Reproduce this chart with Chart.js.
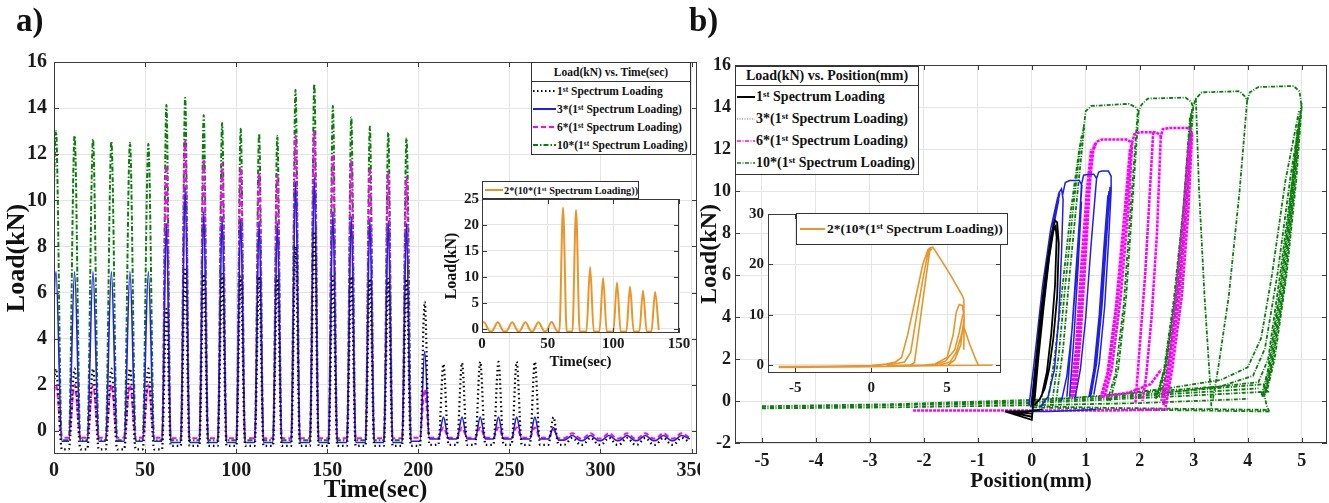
<!DOCTYPE html>
<html>
<head>
<meta charset="utf-8">
<script src="https://cdn.jsdelivr.net/npm/chart.js@4.4.0/dist/chart.umd.min.js"></script>
<style>
  body { margin: 0; background: #fff; }
  #fig { position: relative; width: 1329px; height: 503px; overflow: hidden;
         font-family: "Liberation Serif", "Times New Roman", serif; font-weight: bold; color: #111; }
  canvas { position: absolute; }
  .lbl { position: absolute; font-size: 33px; line-height: 1; }
  .leg { position: absolute; background: #fff; border: 1px solid #333; box-sizing: border-box; overflow: hidden; }
  .leg .ttl { text-align: center; border-bottom: 1px solid #333; white-space: nowrap; }
  .leg .row { display: flex; align-items: center; white-space: nowrap; }
  .leg svg { flex: none; }
  sup { font-size: 0.65em; line-height: 0; vertical-align: 0.45em; }
</style>
</head>
<body>
<div id="fig">
  <canvas id="mainA" width="700" height="503" style="left:0;top:0"></canvas>
  <canvas id="insetA" width="262" height="197" style="left:430px;top:175px"></canvas>
  <canvas id="mainB" width="632" height="503" style="left:697px;top:0"></canvas>
  <canvas id="insetB" width="280" height="195" style="left:735px;top:205px"></canvas>

  <div class="lbl" style="left:16px;top:4px">a)</div>
  <div class="lbl" style="left:689px;top:4px">b)</div>

  <div class="leg" style="left:531px;top:62px;width:160px;height:93px;font-size:11.5px">
    <div class="ttl" style="height:18px;line-height:18px">Load(kN) vs. Time(sec)</div>
    <div class="row" style="height:18px"><svg width="25" height="8"><line x1="1" y1="4" x2="24" y2="4" stroke="#000" stroke-width="2" stroke-dasharray="1.5 2.5"/></svg><span>1<sup>st</sup> Spectrum Loading</span></div>
    <div class="row" style="height:18px"><svg width="25" height="8"><line x1="1" y1="4" x2="24" y2="4" stroke="#1f1fe6" stroke-width="2"/></svg><span>3*(1<sup>st</sup> Spectrum Loading)</span></div>
    <div class="row" style="height:18px"><svg width="25" height="8"><line x1="1" y1="4" x2="24" y2="4" stroke="#ff00ff" stroke-width="2" stroke-dasharray="5 3"/></svg><span>6*(1<sup>st</sup> Spectrum Loading)</span></div>
    <div class="row" style="height:18px"><svg width="25" height="8"><line x1="1" y1="4" x2="24" y2="4" stroke="#0a7d0a" stroke-width="2" stroke-dasharray="5 2 1.5 2"/></svg><span>10*(1<sup>st</sup> Spectrum Loading)</span></div>
  </div>

  <div class="leg" style="left:482px;top:181px;width:157px;height:18px;font-size:10.3px">
    <div class="row" style="height:16px"><svg width="21" height="8"><line x1="2" y1="4" x2="20" y2="4" stroke="#e8962a" stroke-width="2"/></svg><span>2*(10*(1<sup>st</sup> Spectrum Loading))</span></div>
  </div>

  <div class="leg" style="left:735px;top:66px;width:184px;height:109px;font-size:14px">
    <div class="ttl" style="height:18px;line-height:18px">Load(kN) vs. Position(mm)</div>
    <div class="row" style="height:22px"><svg width="20" height="8"><line x1="1" y1="4" x2="19" y2="4" stroke="#000" stroke-width="2"/></svg><span>1<sup>st</sup> Spectrum Loading</span></div>
    <div class="row" style="height:22px"><svg width="20" height="8"><line x1="1" y1="4" x2="19" y2="4" stroke="#5a5aff" stroke-width="1.2" stroke-dasharray="1 1.5"/></svg><span>3*(1<sup>st</sup> Spectrum Loading)</span></div>
    <div class="row" style="height:22px"><svg width="20" height="8"><line x1="1" y1="4" x2="19" y2="4" stroke="#ff00ff" stroke-width="1.5" stroke-dasharray="4 1.5 1 1.5"/></svg><span>6*(1<sup>st</sup> Spectrum Loading)</span></div>
    <div class="row" style="height:22px"><svg width="20" height="8"><line x1="1" y1="4" x2="19" y2="4" stroke="#0a7d0a" stroke-width="1.5" stroke-dasharray="4 1.5 1 1.5"/></svg><span>10*(1<sup>st</sup> Spectrum Loading)</span></div>
  </div>

  <div class="leg" style="left:796px;top:213px;width:212px;height:32px;font-size:13.5px">
    <div class="row" style="height:30px"><svg width="30" height="8"><line x1="3" y1="4" x2="28" y2="4" stroke="#e8962a" stroke-width="2"/></svg><span>2*(10*(1<sup>st</sup> Spectrum Loading))</span></div>
  </div>
</div>

<script>
// ---- a) Load vs. time: peak times (sec), peak loads and the valley loads between them (kN)
const tA = [1.1, 11.3, 21.4, 31.5, 41.7, 51.8, 61.7, 72.0, 82.2, 92.3, 102.5, 112.6, 122.6, 132.6,
            142.9, 153.1, 163.2, 173.4, 183.5, 193.5, 203.5, 213.8, 224.0, 234.0, 244.0, 254.0,
            264.0, 274.2, 284.6, 294.6, 304.7, 314.6, 324.6, 334.6, 344.5];
const halfWidthA = [3.2, 3.2, 3.2, 3.2, 3.2, 3.2, 2.4, 2.4, 2.4, 2.4, 2.4, 2.4, 2.4, 2.4, 2.4, 2.4, 2.4, 2.4, 2.4, 2.4,
                    2.6, 2.8, 2.8, 2.8, 2.8, 2.8, 2.8, 2.8, 4.5, 4.5, 4.5, 4.5, 4.5, 4.5, 4.5];

const blackPeaks = [2.7, 2.7, 2.7, 2.7, 2.7, 2.7, 5.3, 7.0, 6.8, 6.8, 6.7, 6.7, 6.7, 8.0, 8.65,
                    6.7, 6.7, 6.6, 6.6, 6.6, 5.6, 2.9, 2.95, 3.0, 3.0, 3.0, 3.0, 0.6,
                    -0.3, -0.3, -0.3, -0.3, -0.3, -0.3, -0.3];
const blackValleys = [-0.5, -0.8, -0.8, -0.8, -0.8, -0.8, -0.8,
                      -0.65, -0.65, -0.65, -0.65, -0.65, -0.65, -0.65, -0.65, -0.65, -0.65, -0.65, -0.65, -0.65,
                      -0.65, -0.6, -0.6, -0.6, -0.6, -0.6, -0.6, -0.6, -0.6,
                      -0.6, -0.6, -0.6, -0.6, -0.6, -0.6, -0.5];

const bluePeaks = [6.9, 6.9, 6.9, 6.9, 6.9, 6.9, 9.0, 10.55, 9.5, 9.3, 9.2, 9.1, 9.0, 10.8, 11.0,
                   9.5, 9.3, 9.2, 9.1, 9.0, 3.45, 0.6, 0.6, 0.6, 0.6, 0.6, 0.6, 0.15,
                   -0.2, -0.2, -0.2, -0.2, -0.2, -0.2, -0.2];
const blueValleys = [-0.3, -0.45, -0.45, -0.45, -0.45, -0.45, -0.45,
                     -0.5, -0.5, -0.5, -0.5, -0.5, -0.5, -0.5, -0.5, -0.5, -0.5, -0.5, -0.5, -0.5,
                     -0.45, -0.35, -0.35, -0.35, -0.35, -0.35, -0.35, -0.35, -0.4,
                     -0.42, -0.42, -0.42, -0.42, -0.42, -0.42, -0.35];

const magentaPeaks = [2.0, 2.0, 2.0, 2.0, 2.0, 2.0, 11.5, 12.6, 11.8, 11.6, 11.4, 11.2, 11.1, 12.8, 13.0,
                      12.0, 11.7, 11.4, 11.2, 11.0, 1.8, 0.15, 0.15, 0.15, 0.15, 0.15, 0.15, 0.05,
                      -0.1, -0.1, -0.1, -0.1, -0.1, -0.1, -0.1];
const magentaValleys = [0.3, -0.3, -0.3, -0.3, -0.3, -0.3, -0.3,
                        -0.32, -0.32, -0.32, -0.32, -0.32, -0.32, -0.32, -0.32, -0.32, -0.32, -0.32, -0.32, -0.32,
                        -0.3, -0.3, -0.3, -0.3, -0.3, -0.3, -0.3, -0.3, -0.32,
                        -0.33, -0.33, -0.33, -0.33, -0.33, -0.33, -0.3];

const greenPeaks = [13.0, 12.8, 12.65, 12.55, 12.5, 12.45, 14.15, 14.45, 13.7, 13.35, 13.1, 12.9, 12.8,
                    14.8, 15.05, 14.1, 13.6, 13.2, 12.95, 12.7];
const greenValleys = [-0.4, -0.4, -0.4, -0.4, -0.4, -0.4, -0.4, -0.4, -0.4, -0.4, -0.4,
                      -0.4, -0.4, -0.4, -0.4, -0.4, -0.4, -0.4, -0.4, -0.4, -0.4];

// inset a): 2*(10*(1st))
const tInsetA = [1.5, 12, 23, 33, 43, 53, 61.7, 71.6, 82.3, 92.2, 102.8, 112.7, 122.6, 131.8];
const halfWidthInsetA = [4.5, 4.5, 4.5, 4.5, 4.5, 4.3, 2.8, 2.8, 2.8, 2.8, 2.8, 2.8, 2.8, 2.8];
const orangePeaksA = [1.25, 1.25, 1.25, 1.25, 1.25, 1.3, 23.3, 22.9, 11.9, 9.8, 8.9, 8.1, 7.35, 7.1];
const orangeValleysA = [0.9, -0.45, -0.45, -0.45, -0.45, -0.45, -0.45,
                        -0.5, -0.5, -0.5, -0.5, -0.5, -0.5, -0.5, -0.2];

// ---- b) Load vs. position: traced strokes (mm, kN), null separates strokes
const blackX = [0.02, 0.08, 0.18, 0.3, 0.38, 0.43, 0.47, 0.5, 0.47, 0.4, 0.32, 0.24, 0.15, 0.05, null,
                0.05, 0.12, 0.22, 0.32, 0.4, 0.44, 0.46, 0.43, 0.36, 0.28, 0.18, null,
                0.0, 0.06, 0.15, 0.26, 0.36, 0.42, null,
                -0.5, 0.0, 0.03, null, -0.45, 0.0, null, -0.4, 0.0, null, -0.5, -0.1, 0.2];
const blackY = [0.0, 1.5, 4.0, 6.5, 8.0, 8.6, 8.5, 7.5, 5.0, 3.0, 1.5, 0.6, 0.1, -0.2, null,
                0.0, 2.0, 4.5, 6.8, 8.1, 8.3, 7.8, 5.5, 3.2, 1.4, 0.2, null,
                -0.2, 1.5, 3.8, 6.2, 7.9, 8.5, null,
                -0.5, -0.9, 0.0, null, -0.5, -0.75, null, -0.5, -0.6, null, -0.5, -0.5, -0.4];

const blueX = [0.0, 0.1, 0.25, 0.4, 0.5, 0.55, 0.58, 0.55, 0.5, 0.42, 0.3, 0.15, null,
               0.0, 0.12, 0.28, 0.42, 0.52, null, -0.05, 0.05, 0.2, 0.35, 0.48, null,
               -0.02, 0.08, 0.22, 0.38, 0.5, null,
               0.57, 0.62, 0.7, 0.88, 0.92, 0.85, 0.75, 0.65, 0.55, null,
               0.92, 0.96, 1.05, 1.15, 1.2, 1.1, 1.0, 0.9, 0.8, null,
               1.2, 1.24, 1.3, 1.42, 1.47, 1.47, 1.42, 1.35, 1.25, 1.15, null,
               1.45, 1.38, 1.3, 1.2, 1.1, null, 1.43, 1.35, 1.27, 1.17, 1.08, null,
               1.41, 1.33, 1.25, 1.15, 1.06, null,
               0.65, 0.72, 0.8, 0.88, 0.93, null, 0.7, 0.78, 0.86, 0.92, null,
               -0.3, 0.3, 0.8, 1.2];
const blueY = [-0.3, 2.0, 5.5, 8.5, 9.9, 10.1, 9.6, 7.0, 4.0, 1.5, 0.2, -0.3, null,
               0.0, 2.5, 6.0, 8.8, 9.9, null, -0.2, 2.0, 5.5, 8.2, 9.7, null,
               -0.3, 1.8, 5.0, 8.0, 9.6, null,
               9.8, 10.4, 10.5, 10.5, 10.3, 7.0, 3.5, 1.2, 0.0, null,
               10.3, 10.75, 10.8, 10.8, 10.6, 7.5, 4.0, 1.5, 0.1, null,
               10.6, 10.9, 10.95, 10.95, 10.7, 10.0, 7.5, 4.5, 1.8, 0.3, null,
               10.2, 7.5, 4.5, 1.8, 0.3, null, 10.0, 7.3, 4.3, 1.6, 0.2, null,
               9.8, 7.1, 4.1, 1.5, 0.2, null,
               0.2, 2.5, 5.5, 8.5, 10.3, null, 0.2, 3.0, 6.5, 9.5, null,
               -0.5, -0.5, -0.45, -0.4];

const magentaX = [0.75, 0.85, 0.95, 1.05, 1.12, 1.18, null, 0.8, 0.9, 1.0, 1.08, 1.15, null,
                  0.72, 0.82, 0.92, 1.02, 1.1, null,
                  1.15, 1.2, 1.3, 1.75, 1.83, 1.86, 1.9, 2.0, 2.3, 2.36, 2.39, 2.43, 2.55, 2.88, 2.94, 2.97, null,
                  1.86, 1.8, 1.65, 1.48, 1.35, null, 1.84, 1.76, 1.6, 1.43, 1.3, null,
                  1.82, 1.72, 1.56, 1.4, 1.27, null,
                  2.25, 2.1, 1.92, null, 2.39, 2.32, 2.22, 2.12, 2.05, null,
                  2.97, 2.9, 2.78, 2.6, 2.48, null, 2.95, 2.86, 2.73, 2.56, 2.44, null,
                  2.92, 2.82, 2.68, 2.52, 2.4, null,
                  -2.2, 0.0, 1.5, 2.5, null, 1.3, 1.8, 2.2, 2.4];
const magentaY = [0.2, 2.5, 6.0, 9.5, 11.8, 12.3, null, 0.2, 3.0, 7.0, 10.5, 12.2, null,
                  0.2, 2.5, 6.5, 10.0, 12.0, null,
                  12.0, 12.35, 12.45, 12.45, 12.35, 12.3, 12.7, 12.8, 12.8, 12.7, 12.6, 12.95, 13.0, 13.0, 12.9, 12.7, null,
                  12.3, 9.5, 5.0, 1.5, 0.2, null, 12.2, 9.5, 5.0, 1.5, 0.2, null,
                  12.0, 9.0, 4.5, 1.3, 0.1, null,
                  12.8, 6.0, -0.1, null, 12.6, 8.0, 4.0, 1.2, 0.0, null,
                  12.7, 9.0, 5.0, 1.5, -0.3, null, 12.6, 9.0, 5.0, 1.5, -0.2, null,
                  12.4, 9.0, 5.0, 1.5, 0.0, null,
                  -0.45, -0.45, -0.45, -0.4, null, 0.2, 0.4, 0.8, 1.5];

const greenX = [-5.0, -2.5, 0.0, 1.5, 3.0, 4.2, null, -5.0, -2.5, 0.0, 2.0, 4.0, null,
                -5.0, -2.5, 0.0, 2.0, 4.3, null, -5.0, 0.0, 2.5, 4.4, null,
                4.4, 3.0, 1.5, 0.0, null, 4.35, 3.0, 1.5, 0.0, null,
                1.5, 2.5, 3.5, 4.0, 4.25, 4.45, 4.7, 4.95, null,
                2.5, 3.5, 4.1, 4.32, 4.55, 4.8, 5.0, null,
                0.5, 1.5, 2.5, 3.5, 4.2, 4.38, 4.6, 4.85, 5.0, null,
                0.3, 0.42, 0.55, 0.72, 0.88, 0.96, null, 0.38, 0.5, 0.62, 0.78, 0.92, null,
                0.45, 0.58, 0.7, 0.85, 0.97, null,
                0.96, 1.0, 1.1, 1.8, 1.92, 1.98, 2.03, 2.15, 2.85, 2.95, 2.99, 3.04, 3.15, 3.85,
                3.95, 3.99, 4.04, 4.2, 4.85, 4.96, 5.0, null,
                1.98, 1.88, 1.75, 1.6, 1.45, null, 1.96, 1.84, 1.7, 1.55, 1.4, null,
                2.99, 2.9, 2.75, 2.55, 2.4, null, 2.97, 2.86, 2.7, 2.5, 2.35, null,
                2.95, 2.82, 2.66, 2.47, 2.32, null, 2.93, 2.8, 2.63, 2.45, 2.3, null,
                3.04, 3.1, 3.2, 3.3, 3.33, null, 3.99, 3.85, 3.65, 3.45, 3.35, null,
                5.0, 4.9, 4.72, 4.5, 4.35, null, 4.98, 4.86, 4.68, 4.46, 4.32, null,
                4.96, 4.83, 4.64, 4.43, 4.3, null, 4.94, 4.8, 4.6, 4.4, 4.27, null,
                4.92, 4.77, 4.57, 4.37, 4.25, null, 4.3, 4.35, 4.4];
const greenY = [-0.3, -0.2, -0.05, 0.15, 0.4, 0.6, null, -0.35, -0.3, -0.2, -0.1, 0.1, null,
                -0.25, -0.15, 0.05, 0.3, 0.8, null, -0.3, -0.1, 0.2, 0.45, null,
                -0.5, -0.45, -0.4, -0.3, null, -0.42, -0.38, -0.33, -0.25, null,
                0.3, 0.6, 1.0, 1.6, 3.0, 6.0, 10.5, 13.8, null,
                0.4, 0.7, 1.2, 2.5, 6.0, 10.8, 14.0, null,
                0.1, 0.3, 0.5, 0.7, 0.9, 2.0, 6.0, 11.0, 14.2, null,
                0.0, 2.0, 5.0, 9.0, 12.0, 13.0, null, 0.0, 2.2, 5.5, 9.5, 12.6, null,
                0.0, 2.5, 6.0, 10.0, 13.0, null,
                13.0, 13.8, 14.05, 14.15, 14.0, 13.8, 14.1, 14.4, 14.45, 14.25, 14.0, 14.4, 14.7, 14.75,
                14.5, 14.3, 14.7, 14.95, 15.0, 14.75, 14.0, null,
                13.8, 10.0, 5.0, 1.5, 0.0, null, 13.7, 9.5, 4.5, 1.3, 0.0, null,
                14.0, 10.5, 6.0, 2.0, 0.3, null, 13.9, 10.0, 5.5, 1.8, 0.2, null,
                13.7, 9.5, 5.0, 1.6, 0.2, null, 13.5, 9.0, 4.8, 1.5, 0.1, null,
                14.4, 10.0, 5.0, 1.0, -0.4, null, 14.3, 10.0, 5.0, 1.5, 0.0, null,
                14.0, 10.5, 6.0, 2.0, 0.4, null, 13.8, 10.0, 5.5, 1.8, 0.3, null,
                13.5, 9.6, 5.2, 1.6, 0.2, null, 13.2, 9.3, 5.0, 1.5, 0.2, null,
                12.9, 9.0, 4.8, 1.4, 0.2, null, 0.4, -0.2, -0.5];

// inset b)
const orangeX = [-6.1, -3, 0, 1.0, 1.6, 2.0, 2.4, 2.9, 3.4, 3.75, 3.9, 4.05, 4.2, 5.2, 6.0, 6.1, 6.12, 6.1, null,
                 0, 1.5, 2.2, 2.6, 3.0, 3.4, 3.75, 3.95, null,
                 1, 2.6, 2.85, 3.1, 3.5, 3.85, 4.0, null,
                 2, 3.5, 4.2, 5.0, 5.4, 5.6, 5.8, 6.0, 6.1, null,
                 3, 4.3, 4.9, 5.5, 5.8, 6.0, 6.1, null,
                 4.5, 5.2, 5.6, 5.9, 6.05, 6.1, 6.5, 6.9, 7.05, null,
                 5.0, 5.5, 5.9, 6.1, null, -6.1, 0, 3, 5, 7.05, 8.0];
const orangeY = [-0.3, -0.25, -0.1, 0.2, 0.6, 1.5, 6, 13, 20, 23, 23.3, 23.4, 22.8, 18, 13.8, 13.0, 9, 3, null,
                 -0.2, 0.2, 0.6, 2.5, 10, 17, 22.5, 23.2, null,
                 -0.2, 0.0, 0.5, 6, 15, 22.6, 23.1, null,
                 -0.1, 0, 0.2, 1.5, 6, 10.5, 12.0, 11.8, 10, null,
                 -0.2, 0.1, 0.8, 3, 6.5, 9.5, 10.5, null,
                 0, 0.6, 2.5, 5.5, 7.4, 7.6, 4, 1, 0, null,
                 -0.2, 1.0, 4.0, 9, null, -0.5, -0.35, -0.2, -0.1, -0.05, -0.05];

const F = '"Liberation Serif", "Times New Roman", serif';

function spikes(times, widths, peaks, valleys) {
    const pts = [];
    for (let i = 0; i < peaks.length; i++) {
        pts.push({x: times[i] - widths[i], y: valleys[i]});
        pts.push({x: times[i], y: peaks[i]});
        pts.push({x: times[i] + widths[i], y: valleys[i + 1]});
    }
    return pts;
}

function strokes(xs, ys) {
    return xs.map((x, i) => ({x: x, y: ys[i]}));
}

function line(data, color, width, dash, smooth) {
    return {
        data: data, borderColor: color, borderWidth: width, borderDash: dash || [],
        pointRadius: 0, showLine: true, fill: false,
        cubicInterpolationMode: smooth ? 'monotone' : 'default', tension: 0
    };
}

function axis(min, max, step, size, pad, title, tSize, tPad, fix, horiz) {
    return {
        type: 'linear', min: min, max: max,
        ticks: {stepSize: step, includeBounds: false, autoSkip: false, maxRotation: 0,
                font: {family: F, size: size, weight: 'bold'}, color: '#1a1a1a', padding: pad},
        grid: {color: '#e4e4e4', drawTicks: false},
        border: {display: false},
        title: title ? {display: true, text: title, color: '#111', padding: tPad,
                        font: {family: F, size: tSize, weight: 'bold', lineHeight: 1}} : {display: false},
        afterFit: function (s) {
            if (horiz) { s.height = fix; s.paddingLeft = 0; s.paddingRight = 0; }
            else { s.width = fix; s.paddingTop = 0; s.paddingBottom = 0; }
        }
    };
}

// white plot background for the insets, box frame and inward ticks like the original
const framePlugin = {
    id: 'frame',
    beforeDraw(chart, args, opts) {
        if (!opts.fill) return;
        const a = chart.chartArea, c = chart.ctx;
        c.save();
        c.fillStyle = '#fff';
        c.fillRect(a.left, a.top, a.right - a.left, a.bottom - a.top);
        c.restore();
    },
    afterDatasetsDraw(chart) {
        const a = chart.chartArea, c = chart.ctx, L = 5;
        const sx = chart.scales.x, sy = chart.scales.y;
        c.save();
        c.strokeStyle = '#3a3a3a';
        c.lineWidth = 1;
        c.strokeRect(Math.round(a.left) + 0.5, Math.round(a.top) + 0.5,
                     Math.round(a.right - a.left) - 1, Math.round(a.bottom - a.top) - 1);
        c.beginPath();
        sx.ticks.forEach(t => {
            const p = Math.round(sx.getPixelForValue(t.value)) + 0.5;
            c.moveTo(p, a.bottom); c.lineTo(p, a.bottom - L);
            c.moveTo(p, a.top); c.lineTo(p, a.top + L);
        });
        sy.ticks.forEach(t => {
            const p = Math.round(sy.getPixelForValue(t.value)) + 0.5;
            c.moveTo(a.left, p); c.lineTo(a.left + L, p);
            c.moveTo(a.right, p); c.lineTo(a.right - L, p);
        });
        c.stroke();
        c.restore();
    }
};
Chart.register(framePlugin);

const base = {
    responsive: false, animation: false, devicePixelRatio: 1,
    plugins: {legend: {display: false}, tooltip: {enabled: false}}
};

new Chart(document.getElementById('mainA'), {
    type: 'scatter',
    data: {
        datasets: [
            line(spikes(tA, halfWidthA, blackPeaks, blackValleys), '#000', 2.2, [1.5, 3], true),
            line(spikes(tA, halfWidthA, bluePeaks, blueValleys), '#1f1fe6', 1.6, [], true),
            line(spikes(tA, halfWidthA, magentaPeaks, magentaValleys), '#ff00ff', 2, [5, 3], true),
            line(spikes(tA, halfWidthA, greenPeaks, greenValleys), '#0a7d0a', 2, [5, 2, 1.5, 2], true)
        ]
    },
    options: Object.assign({}, base, {
        layout: {padding: {left: 0, top: 62, right: 3, bottom: 0}},
        scales: {
            x: axis(0, 353, 50, 20, 5, 'Time(sec)', 25, {top: 0, bottom: 0}, 49, true),
            y: axis(-1, 16, 2, 20, 7, 'Load(kN)', 26, {top: 4, bottom: 0}, 54, false)
        }
    })
});

new Chart(document.getElementById('insetA'), {
    type: 'scatter',
    data: {
        datasets: [line(spikes(tInsetA, halfWidthInsetA, orangePeaksA, orangeValleysA), '#e8962a', 2, [], true)]
    },
    options: Object.assign({}, base, {
        layout: {padding: {left: 0, top: 24, right: 13, bottom: 0}},
        plugins: {legend: {display: false}, tooltip: {enabled: false}, frame: {fill: true}},
        scales: {
            x: axis(0, 150, 50, 15, 2, 'Time(sec)', 15, {top: 0, bottom: 2}, 39, true),
            y: axis(-0.8, 25, 5, 15, 3, 'Load(kN)', 16, {top: 14, bottom: 0}, 52, false)
        }
    })
});

new Chart(document.getElementById('mainB'), {
    type: 'scatter',
    data: {
        datasets: [
            line(strokes(blackX, blackY), '#000', 1.8, []),
            line(strokes(blueX, blueY), '#1f1fe6', 1.5, []),
            line(strokes(magentaX, magentaY), '#ff00ff', 2.6, [3, 1]),
            line(strokes(greenX, greenY), '#0a7d0a', 1.8, [4, 1.5, 1, 1.5])
        ]
    },
    options: Object.assign({}, base, {
        layout: {padding: {left: 0, top: 65, right: 2, bottom: 0}},
        scales: {
            x: axis(-5.5, 5.47, 1, 18, 8, 'Position(mm)', 21, {top: 0, bottom: 11}, 60, true),
            y: axis(-2, 16, 2, 18, 4, 'Load(kN)', 24, {top: 1, bottom: 0}, 38, false)
        }
    })
});

new Chart(document.getElementById('insetB'), {
    type: 'scatter',
    data: {
        datasets: [line(strokes(orangeX, orangeY), '#e8962a', 1.6, [])]
    },
    options: Object.assign({}, base, {
        layout: {padding: {left: 0, top: 9, right: 14, bottom: 0}},
        plugins: {legend: {display: false}, tooltip: {enabled: false}, frame: {fill: true}},
        scales: {
            x: axis(-6.8, 8.55, 5, 15, 6, null, 0, 0, 27, true),
            y: axis(-1.6, 30, 10, 15, 4, null, 0, 0, 33, false)
        }
    })
});
</script>
</body>
</html>
